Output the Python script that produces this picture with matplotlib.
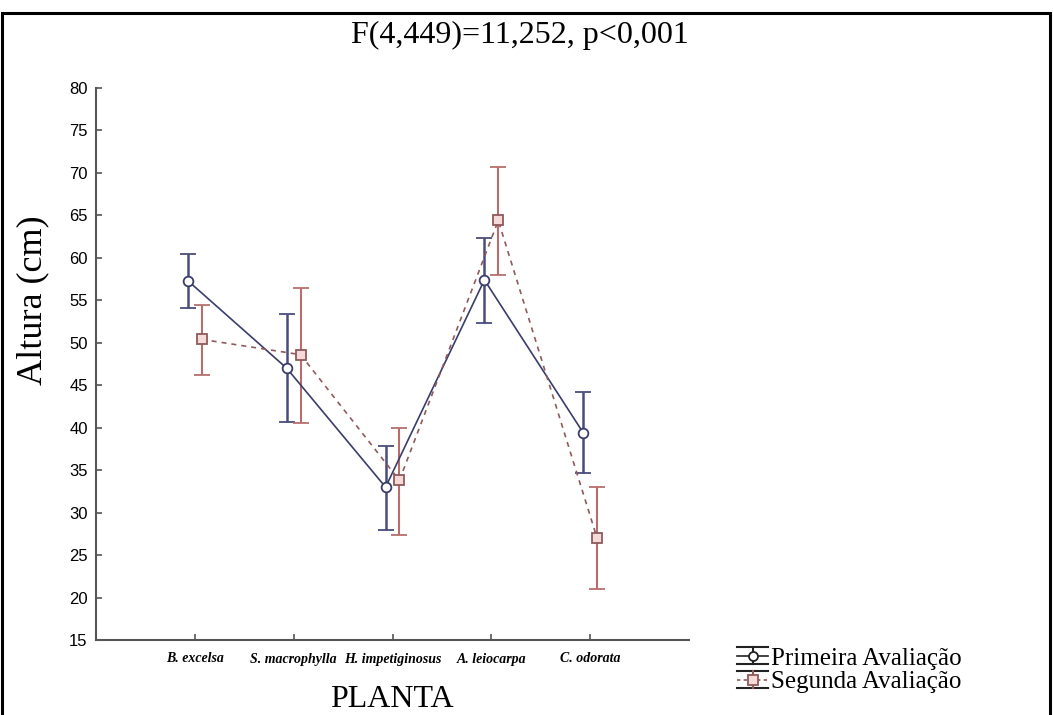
import matplotlib
matplotlib.use("Agg")
import matplotlib.pyplot as plt
from matplotlib.patches import Rectangle
from matplotlib.lines import Line2D
from matplotlib.legend_handler import HandlerBase
import numpy as np

categories = ["B. excelsa", "S. macrophylla", "H. impetiginosus", "A. leiocarpa", "C. odorata"]
primeira_mean = [57.3, 47.0, 33.0, 57.4, 39.4]
primeira_low = [54.1, 40.7, 28.0, 52.3, 34.7]
primeira_high = [60.5, 53.4, 37.8, 62.3, 44.2]
segunda_mean = [50.4, 48.6, 33.8, 64.4, 27.0]
segunda_low = [46.2, 40.6, 27.4, 58.0, 21.0]
segunda_high = [54.4, 56.5, 40.0, 70.7, 33.0]
yticks = list(range(15, 81, 5))

serif = ["Liberation Serif", "DejaVu Serif"]
sans = ["Liberation Sans", "DejaVu Sans"]

W, H = 1053, 715
fig = plt.figure(figsize=(W/100, H/100), dpi=100)
ax = fig.add_axes([96/W, 1-640/H, (689-96)/W, (640-88)/H])

x = np.arange(1, len(categories)+1)
off = 0.07
c1 = "#3a3d6c"
c1e = "#4a4d7c"
c2 = "#8e5a5a"
c2e = "#b86e6c"
c2f = "#f6dada"

p_mean = np.array(primeira_mean)
s_mean = np.array(segunda_mean)
p_err = [p_mean - np.array(primeira_low), np.array(primeira_high) - p_mean]
s_err = [s_mean - np.array(segunda_low), np.array(segunda_high) - s_mean]

ax.errorbar(x - off, p_mean, yerr=p_err, color=c1, ecolor=c1e, lw=1.2,
            elinewidth=1.8, capsize=6, capthick=1.6, marker="o", ms=7,
            mfc="white", mec=c1, mew=1.3, ls="-", zorder=3)
ax.errorbar(x + off, s_mean, yerr=s_err, color=c2, ecolor=c2e, lw=1.2,
            elinewidth=1.5, capsize=6, capthick=1.4, marker="s", ms=7,
            mfc=c2f, mec=c2, mew=1.3, ls=(0, (3, 3)), zorder=3)

ax.set_xlim(0, len(categories)+1)
ax.set_ylim(15, 80)
ax.set_yticks(yticks)
ax.set_xticks(x)
ax.set_xticklabels(categories, fontfamily=serif, fontstyle="italic",
                   fontweight="bold", fontsize=10)
for lab in ax.get_yticklabels():
    lab.set_fontfamily(sans)
    lab.set_fontsize(12)
ax.tick_params(axis="both", direction="in", length=4, width=1.2, color="#555555")
ax.tick_params(axis="x", pad=9)
ax.tick_params(axis="y", pad=6)
for s in ["top", "right"]:
    ax.spines[s].set_visible(False)
for s in ["left", "bottom"]:
    ax.spines[s].set_color("#555555")
    ax.spines[s].set_linewidth(1.5)

fig.text(33/W, 1-300/H, "Altura (cm)", rotation=90, ha="center", va="center",
         fontfamily=serif, fontsize=26)
fig.text(392/W, 1-707/H, "PLANTA", ha="center", va="baseline",
         fontfamily=serif, fontsize=23)
fig.text(520/W, 1-35/H, "F(4,449)=11,252, p<0,001", ha="center", va="center",
         fontfamily=serif, fontsize=23)


class ErrGlyph:
    def __init__(self, color, ecolor, marker, mfc, ls):
        self.color = color
        self.ecolor = ecolor
        self.marker = marker
        self.mfc = mfc
        self.ls = ls


class HandlerErrGlyph(HandlerBase):
    def create_artists(self, legend, orig, xd, yd, width, height, fontsize, trans):
        cx = -xd + width / 2
        cy = -yd + height / 2
        hh = 6.0
        x0, x1 = -xd, -xd + width
        arts = []
        arts.append(Line2D([x0, x1], [cy + hh, cy + hh], color="#222222", lw=1.5))
        arts.append(Line2D([x0, x1], [cy - hh, cy - hh], color="#222222", lw=1.5))
        arts.append(Line2D([cx, cx], [cy - hh, cy + hh], color=orig.ecolor, lw=1.5))
        arts.append(Line2D([x0, x1], [cy, cy], color=orig.color, lw=1.2, ls=orig.ls))
        arts.append(Line2D([cx], [cy], marker=orig.marker, ms=6.5, mfc=orig.mfc,
                           mec=orig.color, mew=1.3, ls="none"))
        for a in arts:
            a.set_transform(trans)
        return arts


g1 = ErrGlyph("#222222", "#222222", "o", "white", "-")
g2 = ErrGlyph(c2, c2, "s", c2f, (0, (2, 2)))
fig.legend(handles=[g1, g2], labels=["Primeira Avaliação", "Segunda Avaliação"],
           handler_map={ErrGlyph: HandlerErrGlyph()},
           loc="upper left", bbox_to_anchor=(737/W, 1-647/H),
           frameon=False, prop={"family": serif, "size": 18},
           handlelength=1.25, handletextpad=0.1, labelspacing=0.05,
           borderaxespad=0, borderpad=0)

fig.patches.append(Rectangle((0.002, -0.01), 0.995, 1-13/H+0.01,
                             transform=fig.transFigure, fill=False,
                             edgecolor="black", lw=2.2))

fig.savefig("out.png", dpi=100)
